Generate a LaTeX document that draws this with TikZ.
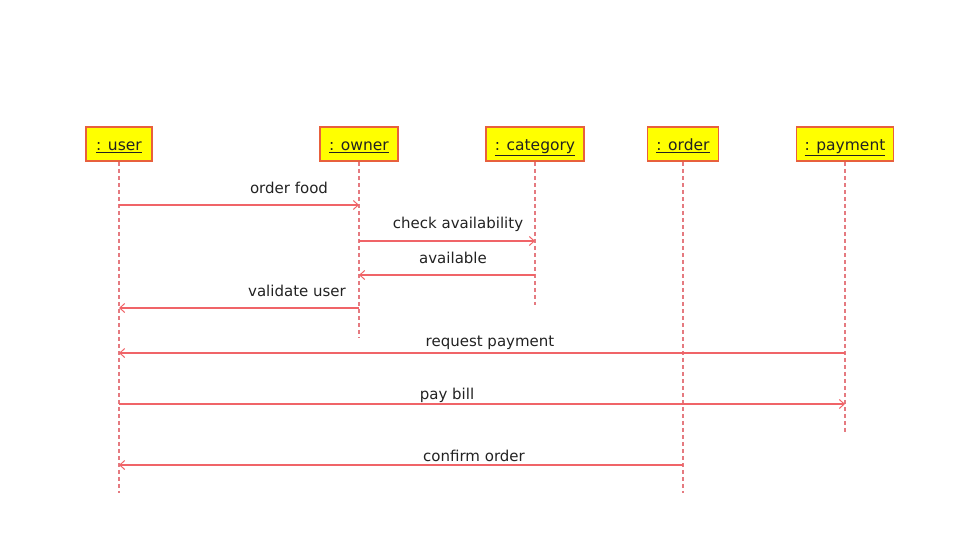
\documentclass[tikz,border=0pt]{standalone}
\usepackage{fontspec}
\setmainfont{DejaVu Sans}
\usetikzlibrary{arrows.meta}
\definecolor{SQBox}{HTML}{FFFF00}
\definecolor{SQEdge}{HTML}{E8603C}
\definecolor{SQLife}{HTML}{E57A80}
\definecolor{SQMsg}{HTML}{F06468}
\definecolor{SQInk}{HTML}{222222}
\tikzset{
  obj/.style={draw=SQEdge,line width=1.6pt,fill=SQBox,text=SQInk,
              minimum height=34pt,inner sep=0pt,text height=14pt,text depth=0pt,
              font=\fontsize{15.5}{17}\selectfont},
  life/.style={SQLife,line width=1.3pt,dash pattern=on 4pt off 3pt},
  msg/.style={-{Straight Barb[length=5pt,width=9pt,line width=1pt]},SQMsg,line width=1.3pt},
  msglabel/.style={text=SQInk,font=\fontsize{15}{17}\selectfont},
}
\begin{document}
\begin{tikzpicture}[x=1pt,y=-1pt]
  \useasboundingbox (0,0) rectangle (973,548);

  % objects
  \node[obj,minimum width=66pt] (user) at (119,144) {\underline{: user}};
  \node[obj,minimum width=78pt] (owner) at (359,144) {\underline{: owner}};
  \node[obj,minimum width=98pt] (category) at (535,144) {\underline{: category}};
  \node[obj,minimum width=71pt] (order) at (683,144) {\underline{: order}};
  \node[obj,minimum width=97pt] (payment) at (845,144) {\underline{: payment}};

  % lifeline ends
  \coordinate (userend) at (119,493);
  \coordinate (ownerend) at (359,337);
  \coordinate (categoryend) at (535,305);
  \coordinate (orderend) at (683,493);
  \coordinate (paymentend) at (845,434);

  \draw[life] (user.south) -- (userend);
  \draw[life] (owner.south) -- (ownerend);
  \draw[life] (category.south) -- (categoryend);
  \draw[life] (order.south) -- (orderend);
  \draw[life] (payment.south) -- (paymentend);

  % message rows
  \coordinate (m1) at (0,205);
  \coordinate (m2) at (0,241);
  \coordinate (m3) at (0,275);
  \coordinate (m4) at (0,308);
  \coordinate (m5) at (0,353);
  \coordinate (m6) at (0,404);
  \coordinate (m7) at (0,465);

  \draw[msg] (user |- m1) -- (owner |- m1);
  \draw[msg] (owner |- m2) -- (category |- m2);
  \draw[msg] (category |- m3) -- (owner |- m3);
  \draw[msg] (owner |- m4) -- (user |- m4);
  \draw[msg] (payment |- m5) -- (user |- m5);
  \draw[msg] (user |- m6) -- (payment |- m6);
  \draw[msg] (order |- m7) -- (user |- m7);

  \node[msglabel] (l1) at (289,188) {order food};
  \node[msglabel] (l2) at (458,224) {check availability};
  \node[msglabel] (l3) at (453,258) {available};
  \node[msglabel] (l4) at (297,291) {validate user};
  \node[msglabel] (l5) at (490,343) {request payment};
  \node[msglabel] (l6) at (447,395) {pay bill};
  \node[msglabel] (l7) at (474,456) {confirm order};
\end{tikzpicture}
\end{document}
